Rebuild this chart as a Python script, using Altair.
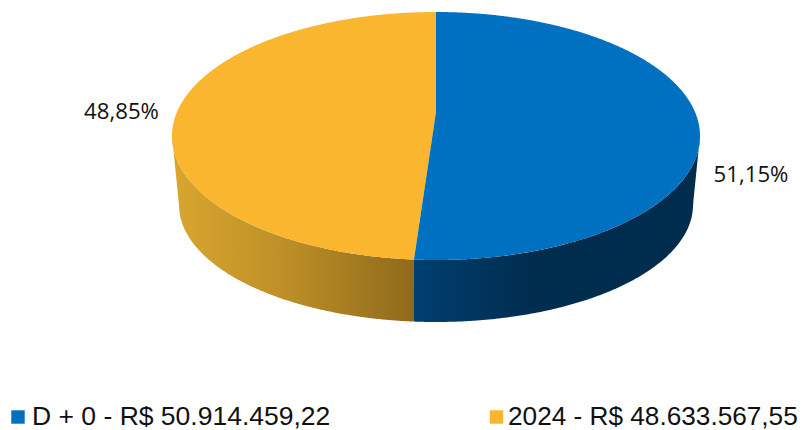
import math
import numpy as np
import pandas as pd
import altair as alt

# --- chart values ---
categories = ["D + 0", "2024"]
amounts = [50914459.22, 48633567.55]
amount_labels = ["R$ 50.914.459,22", "R$ 48.633.567,55"]
pct_labels = ["51,15%", "48,85%"]
slice_colors = ["#0070C0", "#FAB62F"]

# --- look of the projected pie (in page pixels) ---
CX, CY, RX, RY = 436.0, 136.0, 264.0, 124.0      # top face ellipse
VY = 112.0                                       # perspective centre of top face
BCY, BRX, BRY = 205.0, 257.0, 117.0              # bottom rim ellipse
PERSPECTIVE = 1.16

share = amounts[0] / sum(amounts)
theta = 2 * math.pi * share
split_x = CX + PERSPECTIVE * RX * math.sin(theta)


def top_up(x):
    return CY - RY * np.sqrt(np.clip(1 - ((x - CX) / RX) ** 2, 0, 1))


def top_low(x):
    return CY + RY * np.sqrt(np.clip(1 - ((x - CX) / RX) ** 2, 0, 1))


def rim_low(x):
    x = np.asarray(x, dtype=float)
    edge_l, edge_r = CX - BRX, CX + BRX
    y = BCY + BRY * np.sqrt(np.clip(1 - ((x - CX) / BRX) ** 2, 0, 1))
    yl = CY + (BCY - CY) * (x - (CX - RX)) / (RX - BRX)
    yr = CY + (BCY - CY) * ((CX + RX) - x) / (RX - BRX)
    return np.where(x < edge_l, yl, np.where(x > edge_r, yr, y))


def dense(a, b, n=260):
    # sample more tightly at the ends where the ellipse is steep
    t = (1 - np.cos(np.linspace(0, math.pi, n))) / 2
    return a + (b - a) * t


split_y = float(top_low(np.array(split_x)))


def spoke(x):
    return VY + (split_y - VY) * (CX - x) / (CX - split_x)


# top faces
xb1 = dense(split_x, CX, 30)
xb2 = dense(CX, CX + RX)
blue_face = pd.DataFrame({
    "px": np.r_[xb1, xb2],
    "py": np.r_[spoke(xb1), top_up(xb2)],
    "py2": np.r_[top_low(xb1), top_low(xb2)],
})
xy1 = dense(CX - RX, split_x)
xy2 = dense(split_x, CX, 30)
yellow_face = pd.DataFrame({
    "px": np.r_[xy1, xy2],
    "py": np.r_[top_up(xy1), top_up(xy2)],
    "py2": np.r_[top_low(xy1), spoke(xy2)],
})
# side walls
xs1 = dense(split_x, CX + RX)
blue_side = pd.DataFrame({"px": xs1, "py": top_low(xs1), "py2": rim_low(xs1)})
xs2 = dense(CX - RX, split_x)
yellow_side = pd.DataFrame({"px": xs2, "py": top_low(xs2), "py2": rim_low(xs2)})

X = alt.Scale(domain=[8, 800], range=[0, 792], nice=False, zero=False)
Y = alt.Scale(domain=[8, 430], range=[0, 422], nice=False, zero=False)


def area(df, paint):
    return alt.Chart(df).mark_area(color=paint, interpolate="linear", opacity=1).encode(
        x=alt.X("px:Q", scale=X, axis=None),
        y=alt.Y("py:Q", scale=Y, axis=None),
        y2=alt.Y2("py2:Q"),
    )


def grad(stops):
    return alt.Gradient(
        gradient="linear", x1=0, x2=1, y1=0, y2=0,
        stops=[alt.GradientStop(offset=o, color=c) for o, c in stops],
    )


side_y = area(yellow_side, grad([(0, "#D9A62F"), (0.45, "#BE9027"), (1, "#8F6A1B")]))
side_b = area(blue_side, grad([(0, "#004070"), (0.42, "#002C4E"), (1, "#002C4E")]))
face_y = area(yellow_face, slice_colors[1])
face_b = area(blue_face, slice_colors[0])

pct = pd.DataFrame({"lx": [751, 121.5], "ly": [175, 112], "t": pct_labels})
pct_text = alt.Chart(pct).mark_text(
    font="Open Sans", fontSize=22.2, color="#111111", align="center", baseline="middle"
).encode(x=alt.X("lx:Q", scale=X, axis=None), y=alt.Y("ly:Q", scale=Y, axis=None), text="t:N")

leg = pd.DataFrame({
    "cat": categories,
    "sx": [18, 496.5],
    "tx": [32, 508],
    "ly": [417, 417],
    "by": [424.5, 424.5],
    "fs": [26.5, 26.2],
    "t": [f"{c} - {a}" for c, a in zip(categories, amount_labels)],
})
leg_sq = alt.Chart(leg).mark_square(size=180, opacity=1).encode(
    x=alt.X("sx:Q", scale=X, axis=None),
    y=alt.Y("ly:Q", scale=Y, axis=None),
    color=alt.Color("cat:N", scale=alt.Scale(domain=categories, range=slice_colors), legend=None),
)
leg_text = alt.Chart(leg).mark_text(
    font="Liberation Sans", color="#111111", align="left", baseline="alphabetic"
).encode(
    x=alt.X("tx:Q", scale=X, axis=None),
    y=alt.Y("by:Q", scale=Y, axis=None),
    size=alt.Size("fs:Q", scale=None),
    text="t:N",
)

chart = alt.layer(side_y, side_b, face_y, face_b, pct_text, leg_sq, leg_text).properties(
    width=792, height=422, padding=0, autosize=alt.AutoSizeParams(type="none"), background="white"
).configure_view(stroke=None)

chart.save("out.html", embed_options={"renderer": "svg", "actions": False})
